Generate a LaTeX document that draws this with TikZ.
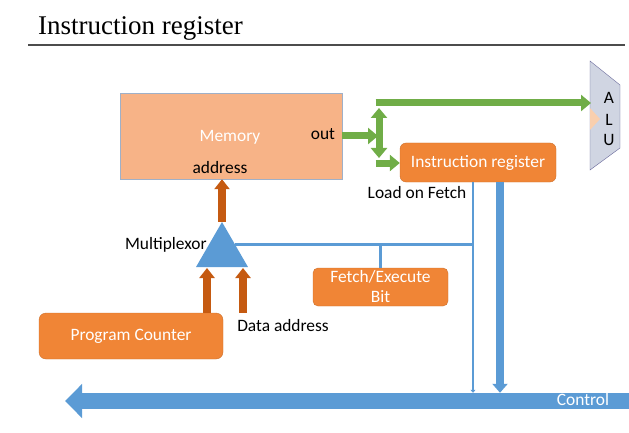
\documentclass[tikz,border=0pt]{standalone}
\usepackage{fontspec}
\setmainfont{Carlito}
\newfontfamily\titlefont{Liberation Serif}
\usetikzlibrary{arrows.meta,shapes.geometric,positioning}
\definecolor{unitorange}{HTML}{F08536}
\definecolor{mempeach}{HTML}{F7B387}
\definecolor{memedge}{HTML}{9FB0C8}
\definecolor{ctrlblue}{HTML}{5B9BD5}
\definecolor{datagreen}{HTML}{70AD47}
\definecolor{addrbrown}{HTML}{C55A11}
\definecolor{alugray}{HTML}{D0D5E2}
\definecolor{alupeach}{HTML}{F9CFAE}
\begin{document}
\begin{tikzpicture}[x=1pt,y=-1pt,
  txt/.style={inner sep=0pt,font=\fontsize{17.4}{20}\selectfont},
  unit/.style={txt,draw=unitorange!85!black,fill=unitorange,text=white,rounded corners=6pt,align=center},
  addr/.style={addrbrown,line width=7.5pt,-{Triangle[width=15pt,length=10pt]}},
  data/.style={datagreen,line width=7pt,-{Triangle[width=16pt,length=10pt]}},
  ctrl/.style={ctrlblue,line width=2.2pt}]
\useasboundingbox (0,0) rectangle (629,433);
% title
\node[anchor=base west,inner sep=0pt,font=\titlefont\fontsize{27}{30}\selectfont] (title) at (38,35) {Instruction register};
\draw[line width=1.3pt,black!70] (28,45) -- (625,45);
% units
\node[txt,draw=memedge,fill=mempeach,minimum width=222pt,minimum height=86pt] (mem) at (231,136) {};
\node[txt,text=white] (memname) at (230,137) {Memory};
\node[txt] (memout) at (323,134) {out};
\node[txt] (memaddr) at (220,168) {address};
\node[unit,minimum width=156pt,minimum height=39pt] (ir) at (478,162.5) {Instruction register};
\node[unit,minimum width=135pt,minimum height=38pt,rounded corners=5pt] (fe) at (380.5,287) {Fetch/Execute\\Bit};
\node[unit,minimum width=184pt,minimum height=46pt,rounded corners=7pt] (pc) at (131,336) {Program Counter};
\node[regular polygon,regular polygon sides=3,minimum size=60pt,inner sep=0pt,fill=ctrlblue] (mux) at (222,252) {};
\node[txt,left=2pt of mux.side 1] (muxname) {Multiplexor};
\node[txt] (daname) at (283,326) {Data address};
\node[txt] (ldname) at (417,193) {Load on Fetch};
\node[inner sep=0pt,fill=ctrlblue,minimum width=129pt,minimum height=16pt] (ctl) at (564.5,401) {};
\node[txt,text=white,text height=11pt,text depth=2pt] (ctlname) at (583,401) {Control};
% ALU
\draw[draw=gray!80!blue,fill=alugray] (590,61) -- (620,85) -- (620,148) -- (590,170) -- cycle;
\fill[alupeach] (590,108) -- (600,119) -- (590,130) -- cycle;
\foreach \l/\y in {A/98,L/120,U/140}{
\node[txt] (alu\l) at (609,\y) {\l};
}
% address path
\coordinate (pcin) at (207,268);
\coordinate (dain) at (243,268);
\draw[addr] (mux.corner 1) -- (mux.corner 1 |- mem.south);
\foreach \c in {pcin,dain}{
\draw[addr] (\c |- pc.north) -- (\c);
}
% data path
\coordinate (gmid) at (378,136);
\coordinate (gup) at (379,108);
\coordinate (gdn) at (379,158);
\coordinate (gtop) at (375.5,103);
\coordinate (gbot) at (375.5,163);
\coordinate (aluin) at (591,103);
\draw[data] (mem.east) -- (gmid);
\draw[data,{Triangle[width=16pt,length=10pt]}-{Triangle[width=16pt,length=10pt]}] (gdn) -- (gup);
\draw[data] (gtop) -- (aluin);
\draw[data] (gbot) -- (gbot -| ir.west);
% control
\coordinate (ld) at ([xshift=-5pt]ir.south);
\draw[ctrl,-{Triangle[width=5pt,length=3pt]}] (ld) -- (ld |- ctl.north);
\draw[ctrl] (mux.side 3) -- (mux.side 3 -| ld);
\draw[ctrl] (fe.north) -- (fe.north |- mux.side 3);
\draw[ctrlblue,line width=7.5pt,-{Triangle[width=15pt,length=9pt]}] ([xshift=22pt]ir.south) -- ([xshift=22pt]ir.south |- ctl.north);
\coordinate (busend) at (65,401);
\draw[ctrlblue,line width=16pt,-{Triangle[width=33pt,length=17pt]}] (ctl.west) -- (busend);
\end{tikzpicture}
\end{document}
